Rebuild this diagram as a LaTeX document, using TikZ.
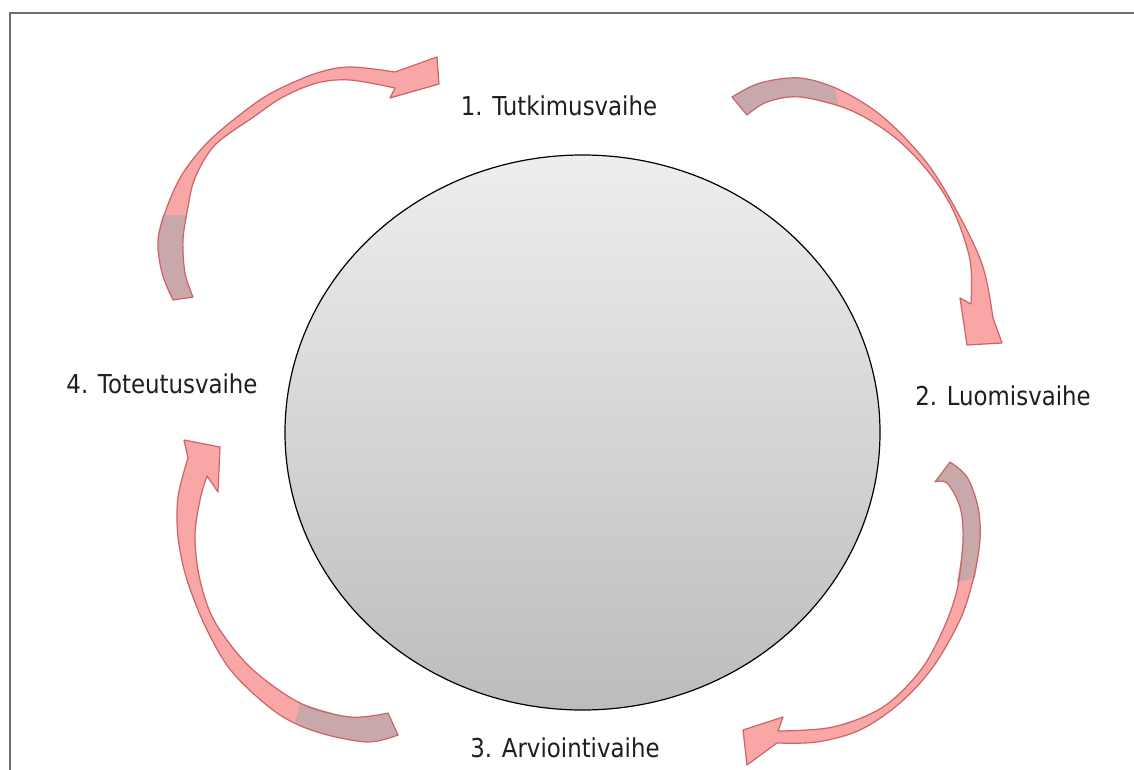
\documentclass[tikz,border=0pt]{standalone}
\usepackage{fontspec}
\newfontfamily\lblfont[FakeStretch=0.88]{DejaVu Sans}
\definecolor{arrpink}{RGB}{249,166,166}
\definecolor{arredge}{RGB}{205,100,100}
\definecolor{arrback}{RGB}{201,168,169}
\definecolor{frame}{RGB}{110,110,110}
\definecolor{txt}{RGB}{30,30,30}
\definecolor{ctop}{RGB}{238,238,238}
\definecolor{cbot}{RGB}{188,188,188}
\tikzset{
  lbl/.style={font=\lblfont\fontsize{19.5pt}{22pt}\selectfont, text=txt, anchor=base, inner sep=0pt},
  arrbody/.style={fill=arrpink},
  arrtail/.style={fill=arrback},
  arrline/.style={draw=arredge, line width=0.9pt, line join=round},
  circ/.style={draw=black, line width=0.9pt, top color=ctop, bottom color=cbot},
  frameline/.style={draw=frame, line width=1.5pt}
}
\begin{document}
\begin{tikzpicture}[x=0.75pt,y=-0.75pt]
\useasboundingbox (0,0) rectangle (1134,770);
\fill[white] (0,0) rectangle (1134,770);
\draw[frameline] (10,770) -- (10,13) -- (1134,13);

% central circle
\path[circ] (582.5,432.5) ellipse [x radius=297.5, y radius=277.5];

% arrow 1 (top-left)
\def\arrowone{plot[smooth,tension=0.55] coordinates{(173,300)(162,273)(158,240)(167,207)(183,173)(210,140)(250,107)(277,90)(317,73)(350,67)(395,72)} -- (437,57) -- (439,84) -- (390,98) -- plot[smooth,tension=0.55] coordinates{(395,88)(350,80)(317,83)(283,97)(255,116)(215,145)(195,178)(188,207)(183,240)(185,273)(193,297)} -- cycle}
\path[arrbody] \arrowone;
\path[arrtail] plot[smooth,tension=0.55] coordinates{(173,300)(162,273)(158,240)(163,215)} -- plot[smooth,tension=0.55] coordinates{(187,215)(183,240)(185,273)(193,297)} -- cycle;
\path[arrline] \arrowone;

% arrow 2 (top-right)
\def\arrowtwo{plot[smooth,tension=0.55] coordinates{(732,97)(760,83)(800,78)(840,90)(883,117)(927,163)(960,217)(983,267)(993,318)} -- (1002,343) -- (967,345) -- (960,298) -- plot[smooth,tension=0.55] coordinates{(971,304)(970,260)(953,210)(927,170)(893,136)(850,110)(800,97)(767,102)(747,115)} -- cycle}
\path[arrbody] \arrowtwo;
\path[arrtail] plot[smooth,tension=0.55] coordinates{(732,97)(760,83)(800,78)(835,88)} -- plot[smooth,tension=0.55] coordinates{(838,106)(800,97)(767,102)(747,115)} -- cycle;
\path[arrline] \arrowtwo;

% arrow 3 (bottom-right)
\def\arrowthree{plot[smooth,tension=0.55] coordinates{(950,462)(967,477)(978,507)(980,540)(973,580)(960,620)(933,667)(900,703)(860,730)(817,742)(777,743)} -- (747,765) -- (743,730) -- (783,717) -- plot[smooth,tension=0.55] coordinates{(778,731)(833,727)(883,707)(920,671)(942,632)(957,590)(963,540)(960,507)(947,483)(935,482)} -- cycle}
\path[arrbody] \arrowthree;
\path[arrtail] plot[smooth,tension=0.55] coordinates{(950,462)(967,477)(978,507)(980,540)(975,578)} -- plot[smooth,tension=0.55] coordinates{(957,582)(963,540)(960,507)(947,483)(935,482)} -- cycle;
\path[arrline] \arrowthree;

% arrow 4 (bottom-left)
\def\arrowfour{plot[smooth,tension=0.55] coordinates{(398,735)(367,742)(317,732)(277,713)(233,673)(207,630)(187,580)(178,537)(178,497)(188,458)} -- (184,440) -- (220,447) -- (218,492) -- plot[smooth,tension=0.55] coordinates{(207,476)(200,500)(195,537)(200,580)(215,622)(250,667)(300,703)(350,717)(388,713)} -- cycle}
\path[arrbody] \arrowfour;
\path[arrtail] plot[smooth,tension=0.55] coordinates{(398,735)(367,742)(317,732)(295,723)} -- plot[smooth,tension=0.55] coordinates{(300,703)(350,717)(388,713)} -- cycle;
\path[arrline] \arrowfour;

% labels
\node[lbl] (s1) at (559,116) {1. Tutkimusvaihe};
\node[lbl] (s2) at (1003,405) {2. Luomisvaihe};
\node[lbl] (s3) at (565,757) {3. Arviointivaihe};
\node[lbl] (s4) at (162,393) {4. Toteutusvaihe};
\end{tikzpicture}
\end{document}
